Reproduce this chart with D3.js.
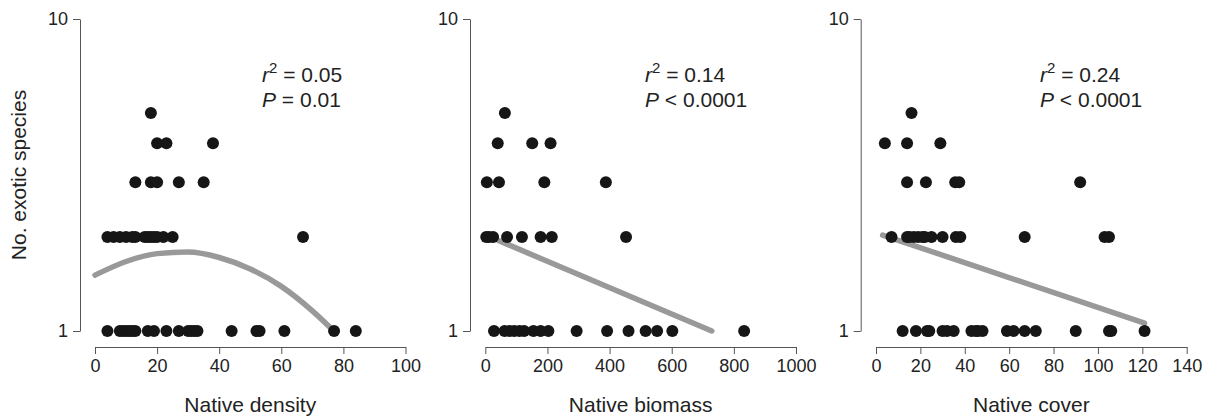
<!DOCTYPE html>
<html>
<head>
<meta charset="utf-8">
<script src="https://d3js.org/d3.v7.min.js"></script>
<style>
body { margin: 0; background: #fff; }
svg { display: block; font-family: "Liberation Sans", Arial, sans-serif; }
</style>
</head>
<body>
<svg width="1211" height="416"></svg>
<script>

// values: [x, no. exotic species]
let densityPts = [
  [18,5],
  [20,4],[23,4],[38,4],
  [13,3],[18,3],[20,3],[27,3],[35,3],
  [4,2],[6,2],[8,2],[10,2],[12,2],[13,2],[16,2],[17,2],[18,2],[19,2],[20,2],[22,2],[25,2],[67,2],
  [4,1],[8,1],[9,1],[10,1],[11,1],[12,1],[13,1],[17,1],[19,1],[23,1],[27,1],[30,1],[31,1],[32,1],[33,1],
  [44,1],[52,1],[53,1],[61,1],[77,1],[84,1]
];
let biomassPts = [
  [63,5],
  [40,4],[151,4],[210,4],
  [5,3],[44,3],[190,3],[388,3],
  [3,2],[12,2],[25,2],[70,2],[118,2],[178,2],[214,2],[453,2],
  [28,1],[62,1],[78,1],[93,1],[110,1],[125,1],[155,1],[178,1],[203,1],[294,1],[392,1],[461,1],
  [516,1],[553,1],[602,1],[833,1]
];
let coverPts = [
  [16,5],
  [4,4],[14,4],[29,4],
  [14,3],[22.5,3],[35.7,3],[37.5,3],[92,3],
  [7,2],[14,2],[15,2],[17,2],[19,2],[21,2],[22,2],[25,2],[30,2],[36,2],[38,2],[67,2],[103,2],[105,2],
  [12,1],[18,1],[23,1],[24,1],[30,1],[32,1],[35,1],[43,1],[45,1],[46,1],[48,1],[59,1],[62,1],[67,1],
  [72,1],[90,1],[105,1],[106,1],[121,1]
];

// fitted lines
let densityFit = [[0,1.51],[10,1.67],[20,1.77],[30,1.79],[40,1.72],[50,1.58],[60,1.39],[70,1.16],[76,1.02]];
let biomassFit = [[42,1.95],[729,1.0]];
let coverFit = [[3,2.03],[121,1.06]];

let xLabels = ["Native density", "Native biomass", "Native cover"];
let xMax = [100, 1000, 140];
let xStep = [20, 200, 20];
let r2Text = ["0.05", "0.14", "0.24"];
let pText = ["= 0.01", "< 0.0001", "< 0.0001"];
let yTicks = [1, 10];

let allPts = [densityPts, biomassPts, coverPts];
let allFits = [densityFit, biomassFit, coverFit];

// layout of the three panels
let panels = [
  {axisX: 80, x0: 95, x1: 405.5, textX: 262},
  {axisX: 470, x0: 485.3, x1: 796, textX: 645},
  {axisX: 860.7, x0: 876, x1: 1186.7, textX: 1040}
];

let svg = d3.select("svg");
let y = d3.scaleLog().domain([1, 10]).range([331, 19]);
let axisY = 347;

panels.forEach(function(p, i) {
  let x = d3.scaleLinear().domain([0, xMax[i]]).range([p.x0, p.x1]);
  let g = svg.append("g");

  // y axis
  let ya = g.append("g")
    .attr("transform", "translate(" + p.axisX + ",0)")
    .call(d3.axisLeft(y).tickValues(yTicks).tickFormat(d3.format("d")).tickSize(7).tickSizeOuter(0).tickPadding(5));
  // x axis
  let xa = g.append("g")
    .attr("transform", "translate(0," + axisY + ")")
    .call(d3.axisBottom(x).tickValues(d3.range(0, xMax[i] + 1, xStep[i])).tickFormat(d3.format("d"))
      .tickSize(7).tickSizeOuter(0).tickPadding(5));

  [ya, xa].forEach(function(a) {
    a.attr("font-size", null).attr("font-family", null);
    a.select(".domain").attr("stroke", "#555").attr("stroke-width", 1);
    a.selectAll(".tick line").attr("stroke", "#555");
    a.selectAll(".tick text").attr("fill", "#222").style("font-size", "18px");
  });

  // fitted line
  g.append("path")
    .datum(allFits[i])
    .attr("fill", "none")
    .attr("stroke", "#999")
    .attr("stroke-width", 5.5)
    .attr("stroke-linecap", "round")
    .attr("d", d3.line().x(d => x(d[0])).y(d => y(d[1])).curve(d3.curveMonotoneX));

  // points
  g.selectAll("circle")
    .data(allPts[i])
    .enter().append("circle")
    .attr("cx", d => x(d[0]))
    .attr("cy", d => y(d[1]))
    .attr("r", 6)
    .attr("fill", "#161616");

  // stats
  let t1 = g.append("text").attr("x", p.textX).attr("y", 82)
    .attr("fill", "#222").style("font-size", "21px");
  t1.append("tspan").style("font-style", "italic").text("r");
  t1.append("tspan").attr("dy", -9).style("font-size", "15px").text("2");
  t1.append("tspan").attr("dy", 9).text(" = " + r2Text[i]);

  let t2 = g.append("text").attr("x", p.textX).attr("y", 107)
    .attr("fill", "#222").style("font-size", "21px");
  t2.append("tspan").style("font-style", "italic").text("P");
  t2.append("tspan").text(" " + pText[i]);

  // x title
  g.append("text")
    .attr("x", (p.x0 + p.x1) / 2)
    .attr("y", 412)
    .attr("text-anchor", "middle")
    .attr("fill", "#222")
    .style("font-size", "21px")
    .text(xLabels[i]);
});

svg.append("text")
  .attr("transform", "translate(26,175) rotate(-90)")
  .attr("text-anchor", "middle")
  .attr("fill", "#222")
  .style("font-size", "21px")
  .text("No. exotic species");

</script>
</body>
</html>
